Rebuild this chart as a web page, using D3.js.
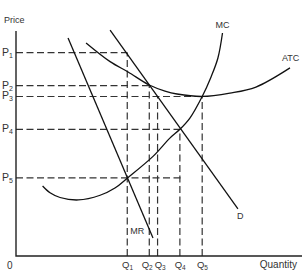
<!DOCTYPE html>
<html>
<head>
	<meta charset="utf-8">
	<title>Monopoly cost curves</title>
	<script src="https://d3js.org/d3.v7.min.js"></script>
	<style>
		body { margin: 0; background: #fff; }
		text { font-family: "Liberation Sans", Arial, sans-serif; fill: #333; }
	</style>
</head>
<body>
	<div class="chart"></div>

	<script type="text/javascript">
		const width = 306
		const height = 273
		const margin = { top: 31, right: 4, bottom: 17, left: 16 }

		// price levels P1..P5 and quantities Q1..Q5 (axis units 0-100)
		const priceNames = ['1', '2', '3', '4', '5']
		const prices = [90.4, 75.7, 70.9, 56.3, 34.7]
		const priceGuideEnd = [38.9, 46.6, 65.1, 57.3, 58.0]

		const quantityNames = ['1', '2', '3', '4', '5']
		const quantities = [38.9, 46.6, 49.5, 57.3, 65.1]
		const quantityGuideTop = [90.4, 75.7, 70.9, 56.3, 70.9]

		// curves: [quantity, price]
		const mc = [[9.3, 31.1], [11.9, 28.1], [15.4, 26.0], [21.8, 24.9], [29.4, 27.0], [34.6, 30.2],
			[39.0, 34.7], [48.0, 44.4], [53.8, 52.4], [57.3, 56.3], [60.8, 61.3], [65.1, 70.9],
			[68.2, 79.6], [70.6, 88.0], [72.2, 99.1]]
		const atc = [[24.5, 94.7], [32.9, 86.4], [39.2, 81.8], [46.6, 76.0], [52.1, 73.3], [56.3, 72.0],
			[65.1, 70.9], [74.8, 72.4], [83.9, 75.1], [95.8, 83.6]]
		const demand = [[32.9, 100.4], [77.6, 20.9]]
		const mr = [[18.2, 96.9], [47.9, 8.0]]

		const curveLabels = [
			{ name: 'MC', q: 72.2, p: 101.5 },
			{ name: 'ATC', q: 96.0, p: 86.5 },
			{ name: 'D', q: 78.4, p: 16.5 },
			{ name: 'MR', q: 42.4, p: 9.8 }
		]

		const svg = d3.select('.chart').append('svg')
			.attr('width', width)
			.attr('height', height)

		const x = d3.scaleLinear([0, 100], [margin.left, width - margin.right])
		const y = d3.scaleLinear([0, 100], [height - margin.bottom, margin.top])

		// dashed guides
		const guides = svg.append('g')
			.attr('stroke', '#333')
			.attr('stroke-width', 1.2)
			.attr('stroke-dasharray', '7,3.5')

		guides.selectAll('.hguide')
			.data(prices)
			.join('line')
			.attr('x1', x(0))
			.attr('x2', (d, i) => x(priceGuideEnd[i]))
			.attr('y1', d => y(d))
			.attr('y2', d => y(d))

		guides.selectAll('.vguide')
			.data(quantities)
			.join('line')
			.attr('x1', d => x(d))
			.attr('x2', d => x(d))
			.attr('y1', y(0))
			.attr('y2', (d, i) => y(quantityGuideTop[i]))

		// curves
		const line = d3.line()
			.x(d => x(d[0]))
			.y(d => y(d[1]))
			.curve(d3.curveCatmullRom)

		svg.append('g')
			.attr('fill', 'none')
			.attr('stroke', '#111')
			.attr('stroke-width', 1.3)
			.selectAll('path')
			.data([mc, atc, demand, mr])
			.join('path')
			.attr('d', line)

		// axes
		svg.append('path')
			.attr('fill', 'none')
			.attr('stroke', '#222')
			.attr('stroke-width', 1.4)
			.attr('d', `M${x(0)},${y(100)}V${y(0)}H${x(100)}`)

		svg.append('text')
			.attr('x', 4)
			.attr('y', 23)
			.attr('font-size', 9)
			.text('Price')

		svg.append('text')
			.attr('x', 7)
			.attr('y', y(0) + 13)
			.attr('font-size', 10)
			.text('0')

		svg.append('text')
			.attr('x', x(100) - 5)
			.attr('y', y(0) + 12)
			.attr('text-anchor', 'end')
			.attr('font-size', 10)
			.text('Quantity')

		// P labels
		const pText = svg.append('g').selectAll('text')
			.data(prices)
			.join('text')
			.attr('x', 2)
			.attr('y', d => y(d) + 3)
			.attr('font-size', 10.5)
		pText.append('tspan').text('P')
		pText.append('tspan')
			.attr('font-size', 7)
			.attr('dy', 2)
			.text((d, i) => priceNames[i])

		// Q labels: centred under their guide, pushed apart when too close
		const labelW = 10.5
		const minGap = 13
		const qx = quantities.map(d => x(d))
		for (let i = 1; i < qx.length; i++) {
			const gap = qx[i] - qx[i - 1]
			if (gap < minGap) {
				const push = (minGap - gap) / 2
				qx[i - 1] -= push
				qx[i] += push
			}
		}

		const qText = svg.append('g').selectAll('text')
			.data(quantities)
			.join('text')
			.attr('x', (d, i) => qx[i] - labelW / 2)
			.attr('y', y(0) + 12)
			.attr('font-size', 9.5)
		qText.append('tspan').text('Q')
		qText.append('tspan')
			.attr('font-size', 6.5)
			.attr('dy', 2)
			.text((d, i) => quantityNames[i])

		// curve names
		svg.append('g').selectAll('text')
			.data(curveLabels)
			.join('text')
			.attr('x', d => x(d.q))
			.attr('y', d => y(d.p))
			.attr('text-anchor', 'middle')
			.attr('font-size', 9)
			.text(d => d.name)
	</script>
</body>
</html>
